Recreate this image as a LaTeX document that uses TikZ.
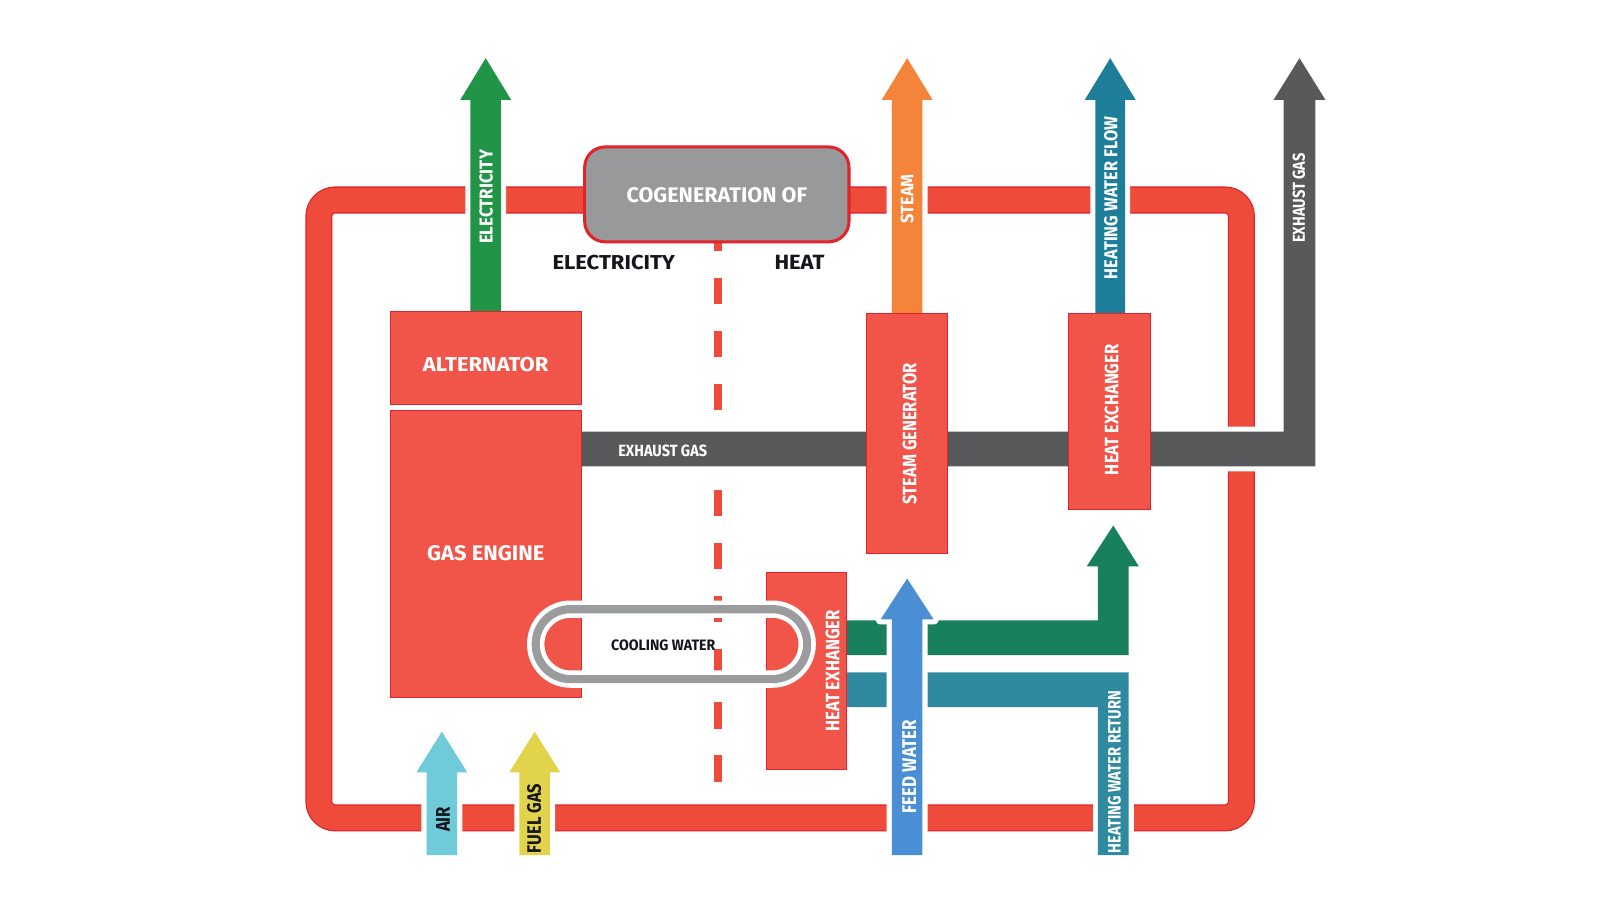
\documentclass[tikz,border=0pt]{standalone}
\usepackage{fontspec}
\setmainfont{Fira Sans}
\usepackage{graphicx}
\definecolor{framered}{HTML}{EE4B3B}
\definecolor{boxred}{HTML}{F15549}
\definecolor{borderred}{HTML}{E3232C}
\definecolor{cogray}{HTML}{98999B}
\definecolor{elecgreen}{HTML}{219448}
\definecolor{steamorange}{HTML}{F5843B}
\definecolor{flowblue}{HTML}{1E7E9A}
\definecolor{exgray}{HTML}{58595B}
\definecolor{heatgreen}{HTML}{18805D}
\definecolor{returnteal}{HTML}{2F8AA0}
\definecolor{feedblue}{HTML}{4A8FD3}
\definecolor{airblue}{HTML}{6FCBD9}
\definecolor{fuelyellow}{HTML}{E1D34B}
\definecolor{ringgray}{HTML}{9B9C9E}
\definecolor{darktext}{HTML}{15151C}
% #1 colour, #2 centre x, #3 bottom y, #4 half shaft, #5 half head, #6 head base y, #7 tip y
\newcommand{\UpArr}[7]{%
  \fill[#1, wout] (#2-#4,#3) -- (#2-#4,#6) -- (#2-#5,#6) -- (#2,#7) -- (#2+#5,#6) -- (#2+#4,#6) -- (#2+#4,#3) -- cycle;}
\newcommand{\fitlab}[3]{\resizebox{#1pt}{#2pt}{\bfseries #3}}
\begin{document}
\begin{tikzpicture}[x=1pt,y=-1pt,
  lbl/.style={inner sep=0pt, outer sep=0pt},
  boxstyle/.style={draw=borderred, line width=1pt, fill=boxred, inner sep=0pt},
  wout/.style={preaction={draw=white, line width=10pt, line join=round}}]
\useasboundingbox[fill=white] (0,0) rectangle (1568,882);

% outer red frame
\draw[borderred, line width=26.5pt, rounded corners=16pt] (312.5,196) rectangle (1216.5,801.5);
\draw[framered, line width=24pt, rounded corners=16pt] (312.5,196) rectangle (1216.5,801.5);

% dashed divider
\draw[framered, line width=8pt, dash pattern=on 26pt off 26pt] (704,220) -- (704,766);

% exhaust gas duct
\fill[exgray, wout] (570,423) -- (1258,423) -- (1258,98) -- (1248,98) -- (1273.5,57) -- (1299,98) -- (1289,98) -- (1289,457) -- (570,457) -- cycle;

% output arrows
\UpArr{elecgreen}{476}{306}{15}{25}{98}{57}
\UpArr{steamorange}{889}{308}{15}{25}{98}{57}
\UpArr{flowblue}{1088}{308}{14.5}{25}{98}{57}

% cogeneration box
\node[draw=borderred, line width=3pt, fill=cogray, rounded corners=20pt, minimum width=259pt, minimum height=93pt, inner sep=0pt] (cog) at (702.5,190.5) {};

% heating water circuit (lower)
\fill[heatgreen] (830,608) -- (1076,608) -- (1076,555) -- (1065,555) -- (1091,515) -- (1116,555) -- (1106,555) -- (1106,642) -- (830,642) -- cycle;
\fill[returnteal, wout] (830,659) -- (1106,659) -- (1106,838) -- (1076,838) -- (1076,693) -- (830,693) -- cycle;

% input arrows
\UpArr{feedblue}{889}{838}{15}{26}{607}{567}
\UpArr{airblue}{433}{838}{15}{25}{757}{717}
\UpArr{fuelyellow}{524}{838}{15}{25}{757}{717}

% boxes
\node[boxstyle, minimum width=187pt, minimum height=90.5pt] (alt) at (476.5,350.75) {};
\node[boxstyle, minimum width=187pt, minimum height=281pt] (eng) at (476.5,543) {};
\node[boxstyle, minimum width=80pt, minimum height=235pt] (sg) at (889,424.5) {};
\node[boxstyle, minimum width=80pt, minimum height=192pt] (hx1) at (1087.5,403) {};
\node[boxstyle, minimum width=79pt, minimum height=193pt] (hx2) at (790.5,657.5) {};

% cooling water loop
\draw[white, line width=17pt, rounded corners=34pt] (525,597) rectangle (791,665.5);
\draw[ringgray, line width=8pt, rounded corners=34pt] (525,597) rectangle (791,665.5);

% labels
\node[lbl, text=white] (tcog) at (702.5,191.3) {\fitlab{177}{14.7}{COGENERATION OF}};
\node[lbl, text=darktext] (tel) at (601.5,257) {\fitlab{120}{14}{ELECTRICITY}};
\node[lbl, text=darktext] (the) at (783.5,257) {\fitlab{49}{14}{HEAT}};
\node[lbl, text=white] (talt) at (476,357) {\fitlab{123}{14}{ALTERNATOR}};
\node[lbl, text=white] (teng) at (476,542) {\fitlab{115}{14.7}{GAS ENGINE}};
\node[lbl, text=white] (tex) at (649.5,441.8) {\fitlab{87}{11.3}{EXHAUST GAS}};
\node[lbl, text=darktext] (tcw) at (650,632) {\fitlab{102}{10.5}{COOLING WATER}};

\node[lbl, text=white, rotate=90] (telv) at (476.5,193) {\fitlab{92}{13}{ELECTRICITY}};
\node[lbl, text=white, rotate=90] (tst) at (889,195) {\fitlab{48}{12.5}{STEAM}};
\node[lbl, text=white, rotate=90] (thwf) at (1088.6,194) {\fitlab{159}{13}{HEATING WATER FLOW}};
\node[lbl, text=white, rotate=90] (texv) at (1273,194) {\fitlab{88}{12}{EXHAUST GAS}};
\node[lbl, text=white, rotate=90] (tsg) at (891.4,425) {\fitlab{138}{13.5}{STEAM GENERATOR}};
\node[lbl, text=white, rotate=90] (thx1) at (1089.3,401.5) {\fitlab{128}{13.5}{HEAT EXCHANGER}};
\node[lbl, text=white, rotate=90] (thx2) at (816,657.5) {\fitlab{119}{13.5}{HEAT EXHANGER}};
\node[lbl, text=white, rotate=90] (tfw) at (891,751.5) {\fitlab{91}{13.5}{FEED WATER}};
\node[lbl, text=white, rotate=90] (thwr) at (1092,756.5) {\fitlab{159}{12.5}{HEATING WATER RETURN}};
\node[lbl, text=darktext, rotate=90] (tair) at (434,803) {\fitlab{24.5}{13.5}{AIR}};
\node[lbl, text=darktext, rotate=90] (tfg) at (523.4,802) {\fitlab{68}{13.5}{FUEL GAS}};
\end{tikzpicture}
\end{document}
